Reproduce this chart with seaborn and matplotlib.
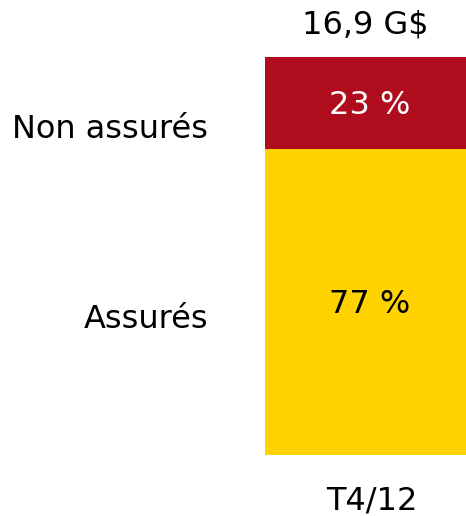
import matplotlib
matplotlib.use("Agg")
import matplotlib.pyplot as plt
import seaborn as sns
import pandas as pd

sns.set_style("white")
plt.rcParams['font.family'] = ['DejaVu Sans']

period = ["T4/12"]
segments = ["Assurés", "Non assurés"]
shares = [77, 23]
colors = ["#FFD200", "#AF0D1E"]
total_label = "16,9 G$"

W, H = 466, 516
fig = plt.figure(figsize=(W / 100, H / 100), dpi=100)
ax = fig.add_axes([265 / W, (H - 455) / H, 201 / W, 398 / H])

cum = [sum(shares[:i + 1]) for i in range(len(shares))]
for seg, top, col in reversed(list(zip(segments, cum, colors))):
    df = pd.DataFrame({"period": period, "value": [top]})
    sns.barplot(data=df, x="period", y="value", color=col, width=1.0,
                saturation=1, ax=ax, edgecolor="none", linewidth=0)

ax.set_xlim(-0.5, 0.5)
ax.set_ylim(0, 100)
ax.axis("off")

fs = 23
bottoms = [0] + cum[:-1]
txtcolors = ["black", "white"]
for seg, b, v, tc in zip(segments, bottoms, shares, txtcolors):
    ax.text(0.02, b + v / 2 - 0.6, f"{v} %", ha="center", va="center",
            fontsize=fs, color=tc)

fig.text(208 / W, 1 - 129 / H, segments[1], ha="right", va="center",
         fontsize=fs, color="black")
fig.text(208 / W, 1 - 320 / H, segments[0], ha="right", va="center",
         fontsize=fs, color="black")

t = ax.text(0.0, 100 + (57 - 25) / 398 * 100, total_label, ha="center",
            va="center", fontsize=fs, color="black")
t.set_clip_on(False)

fig.text(372 / W, 1 - 501 / H, period[0], ha="center", va="center",
         fontsize=fs, color="black")

fig.savefig("out.png", dpi=100)
